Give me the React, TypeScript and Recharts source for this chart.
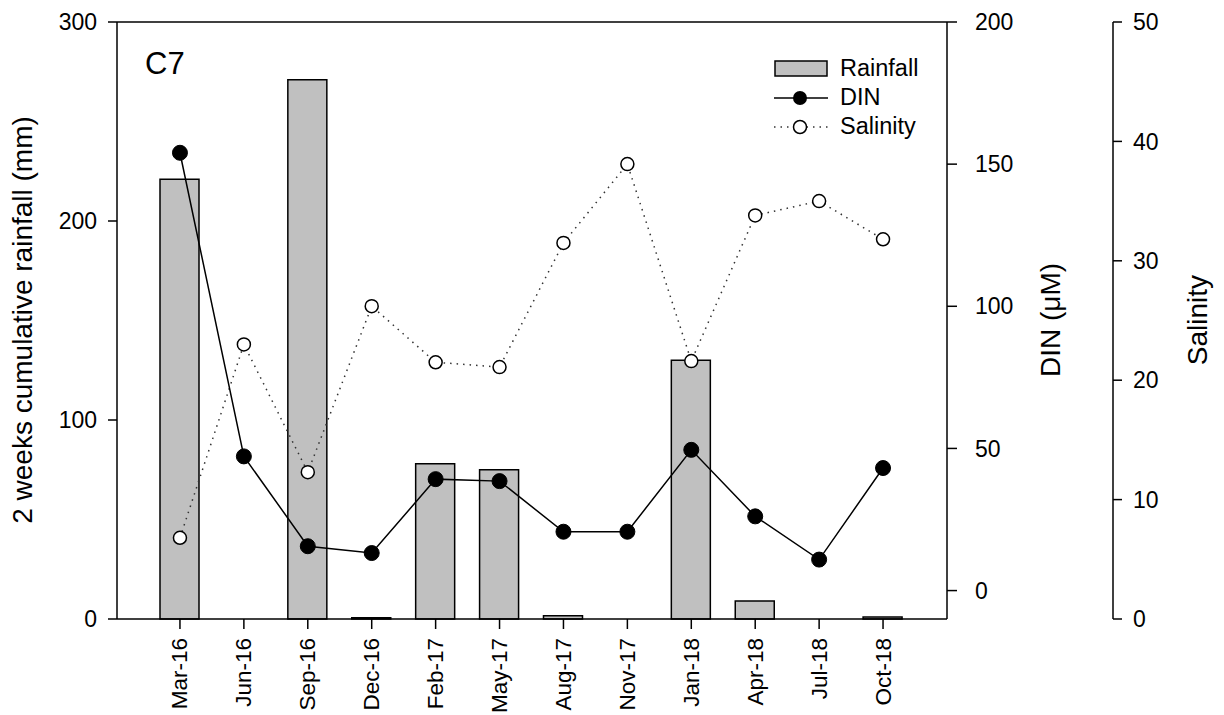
import React from "react";
import {
  ComposedChart,
  Bar,
  Line,
  XAxis,
  YAxis,
  Legend,
  ReferenceLine,
} from "recharts";

const FONT = "'Liberation Sans', Arial, sans-serif";

const months = [
  "Mar-16",
  "Jun-16",
  "Sep-16",
  "Dec-16",
  "Feb-17",
  "May-17",
  "Aug-17",
  "Nov-17",
  "Jan-18",
  "Apr-18",
  "Jul-18",
  "Oct-18",
];
// 2 weeks cumulative rainfall (mm)
const rainfall = [221, 0, 271, 0.6, 78, 75, 1.6, 0, 130, 9, 0, 1];
// DIN (uM)
const din = [154, 47.2, 15.6, 13.2, 39.2, 38.5, 20.7, 20.7, 49.5, 26.1, 10.9, 43.1];
const salinity = [6.8, 23, 12.3, 26.2, 21.5, 21.1, 31.5, 38.1, 21.6, 33.8, 35, 31.8];

const rainTicks = [0, 100, 200, 300];
const dinTicks = [0, 50, 100, 150, 200];
const salTicks = [0, 10, 20, 30, 40, 50];

const data = months.map((m, i) => ({
  month: m,
  rainfall: rainfall[i],
  din: din[i],
  salinity: salinity[i],
}));

const tickStyle = { fontSize: 23, fill: "#000", fontFamily: FONT };
const axisLine = { stroke: "#000", strokeWidth: 1.5 };

const XTick = (props: any) => {
  const { x, y, payload } = props;
  return (
    <text
      x={x}
      y={y}
      transform={`rotate(-90, ${x}, ${y})`}
      textAnchor="end"
      dominantBaseline="central"
      style={{ ...tickStyle, fontSize: 22.5 }}
    >
      {payload.value}
    </text>
  );
};

// axis titles are placed at fixed page positions
const AxisTitle = (props: any) => {
  const { cx, text } = props;
  return (
    <text
      x={cx}
      y={320}
      transform={`rotate(-90, ${cx}, 320)`}
      textAnchor="middle"
      dominantBaseline="central"
      style={{ fontSize: 28, fill: "#000", fontFamily: FONT }}
    >
      {text}
    </text>
  );
};

const LegendBox = () => {
  const row = { display: "flex", alignItems: "center", height: 29 } as const;
  return (
    <div style={{ fontFamily: FONT, fontSize: 23.5, color: "#000", lineHeight: 1 }}>
      <div style={row}>
        <svg width={54} height={20} style={{ marginRight: 12 }}>
          <rect x={1} y={2} width={52} height={15} fill="#c0c0c0" stroke="#000" strokeWidth={1.5} />
        </svg>
        <span>Rainfall</span>
      </div>
      <div style={row}>
        <svg width={54} height={20} style={{ marginRight: 12 }}>
          <line x1={0} y1={10} x2={54} y2={10} stroke="#000" strokeWidth={1.5} />
          <circle cx={26} cy={10} r={7} fill="#000" />
        </svg>
        <span>DIN</span>
      </div>
      <div style={row}>
        <svg width={54} height={20} style={{ marginRight: 12 }}>
          <line x1={0} y1={10} x2={54} y2={10} stroke="#333" strokeWidth={1.5} strokeDasharray="1.5 5" />
          <circle cx={26} cy={10} r={6.5} fill="#fff" stroke="#000" strokeWidth={1.5} />
        </svg>
        <span>Salinity</span>
      </div>
    </div>
  );
};

export default function App() {
  return (
    <div style={{ position: "absolute", left: 0, top: 0, width: 1224, height: 715, background: "#fff" }}>
      <ComposedChart
        width={1224}
        height={715}
        data={data}
        margin={{ top: 22, right: 0, bottom: 0, left: 0 }}
      >
        <XAxis
          dataKey="month"
          height={96}
          padding={{ left: 31, right: 32 }}
          axisLine={axisLine}
          tickLine={axisLine}
          tickSize={10}
          tickMargin={9}
          interval={0}
          tick={<XTick />}
        />
        <YAxis
          yAxisId="rain"
          width={117}
          domain={[0, 300]}
          ticks={rainTicks}
          axisLine={axisLine}
          tickLine={axisLine}
          tickSize={9}
          tickMargin={11}
          tick={tickStyle}
          label={<AxisTitle cx={22} text="2 weeks cumulative rainfall (mm)" />}
        />
        <YAxis
          yAxisId="din"
          orientation="right"
          width={166}
          domain={[-10, 200]}
          ticks={dinTicks}
          axisLine={axisLine}
          tickLine={axisLine}
          tickSize={10}
          tickMargin={18}
          tick={tickStyle}
          label={<AxisTitle cx={1050} text="DIN (μM)" />}
        />
        <YAxis
          yAxisId="sal"
          orientation="right"
          width={111}
          domain={[0, 50]}
          ticks={salTicks}
          axisLine={axisLine}
          tickLine={axisLine}
          tickSize={9}
          tickMargin={11}
          tick={tickStyle}
          label={<AxisTitle cx={1197} text="Salinity" />}
        />
        <ReferenceLine yAxisId="rain" y={300} stroke="#000" strokeWidth={1.5} />
        <Legend
          content={<LegendBox />}
          layout="horizontal"
          verticalAlign="middle"
          align="center"
          wrapperStyle={{ left: 774, top: 54, width: 190, height: 90 }}
        />
        <Bar
          yAxisId="rain"
          dataKey="rainfall"
          name="Rainfall"
          barSize={39}
          fill="#c0c0c0"
          stroke="#000"
          strokeWidth={1.5}
          isAnimationActive={false}
        />
        <Line
          yAxisId="sal"
          dataKey="salinity"
          name="Salinity"
          stroke="#333"
          strokeWidth={1.5}
          strokeDasharray="1.5 5"
          dot={{ r: 6.5, fill: "#fff", stroke: "#000", strokeWidth: 1.5, strokeDasharray: "" }}
          activeDot={false}
          isAnimationActive={false}
        />
        <Line
          yAxisId="din"
          dataKey="din"
          name="DIN"
          stroke="#000"
          strokeWidth={1.5}
          dot={{ r: 7.5, fill: "#000", stroke: "#000", strokeWidth: 1 }}
          activeDot={false}
          isAnimationActive={false}
        />
      </ComposedChart>
      <div
        style={{
          position: "absolute",
          left: 145,
          top: 48,
          fontFamily: FONT,
          fontSize: 31,
          lineHeight: 1,
          color: "#000",
        }}
      >
        C7
      </div>
    </div>
  );
}
